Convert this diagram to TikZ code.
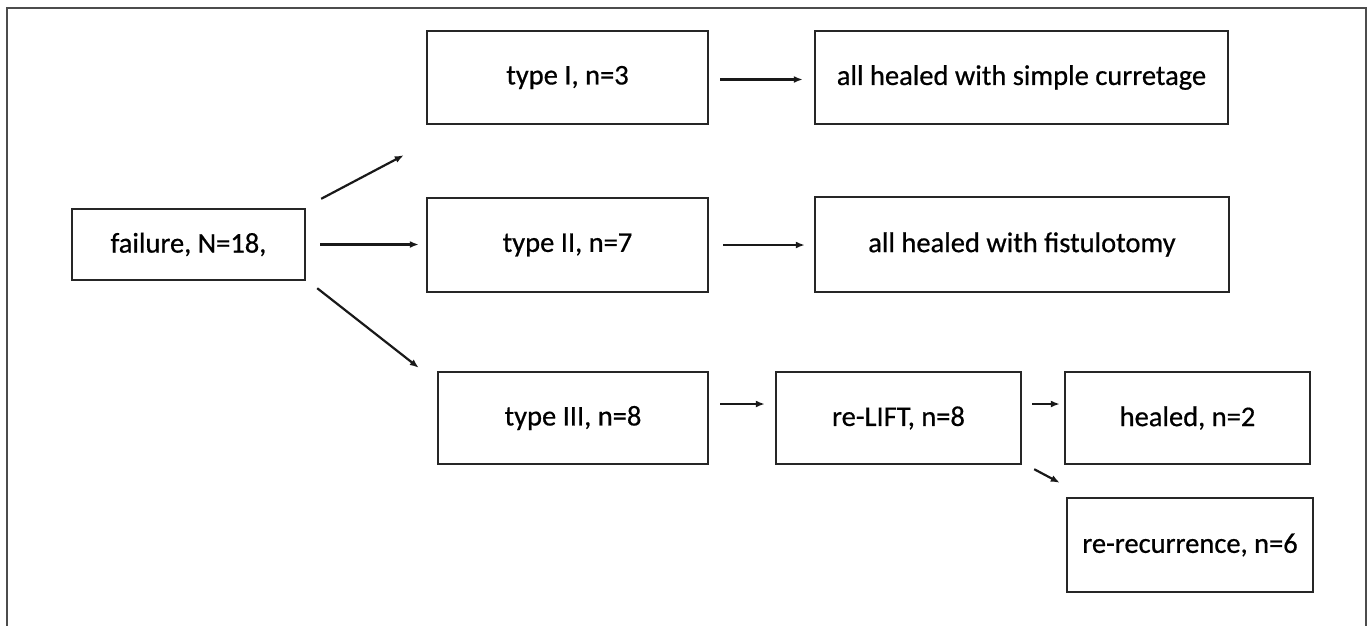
\documentclass[tikz,border=0pt]{standalone}
\usepackage{fontspec}
\setmainfont{Carlito}[FakeBold=0.6]
\usetikzlibrary{arrows.meta,calc}
\tikzset{
  box/.style={draw=black!85, line width=2.4pt, inner sep=0pt, align=center,
    font=\fontsize{28.5}{34}\selectfont},
  arr/.style={draw=black!90, line width=2.2pt, -{Latex[length=9pt,width=7pt]}},
  frame/.style={draw=black!70, line width=1.6pt}
}
\begin{document}
\begin{tikzpicture}[x=1pt,y=-1pt]
\useasboundingbox[fill=white] (0,0) rectangle (1370,625);
\draw[frame] (7,640) -- (7,8) -- (1366,8) -- (1366,640);

\node[box, minimum width=233pt, minimum height=71pt] (f) at (188.5,244.5) {failure, N=18,};
\node[box, minimum width=281pt, minimum height=93pt] (t1) at (567.5,77.5) {type I, n=3};
\node[box, minimum width=413pt, minimum height=93pt] (cur) at (1021.5,77.5) {all healed with simple curretage};
\node[box, minimum width=281pt, minimum height=94pt] (t2) at (567.5,245) {type II, n=7};
\node[box, minimum width=414pt, minimum height=95pt] (fis) at (1022,244.5) {all healed with fistulotomy};
\node[box, minimum width=270pt, minimum height=92pt] (t3) at (573,418) {type III, n=8};
\node[box, minimum width=245pt, minimum height=92pt] (rl) at (898.5,418) {re-LIFT, n=8};
\node[box, minimum width=245pt, minimum height=92pt] (h) at (1187.5,418) {healed, n=2};
\node[box, minimum width=246pt, minimum height=94pt] (rr) at (1190,545) {re-recurrence, n=6};

\draw[arr] ([shift={(15,-9)}]f.north east) -- ([shift={(-22,30)}]t1.south west);
\draw[arr, shorten <=14pt, shorten >=7pt] (f.east) -- (f.east -| t2.west);
\draw[arr] ([shift={(11,7)}]f.south east) -- ([shift={(-18,-3)}]t3.north west);
\draw[arr, shorten <=11pt, shorten >=11pt] ([yshift=-2pt]t1.east) -- ([yshift=-2pt]t1.east -| cur.west);
\draw[arr, shorten <=14pt, shorten >=9pt] (t2.east) -- (t2.east -| fis.west);
\draw[arr, shorten <=11pt, shorten >=10pt] ([yshift=14pt]t3.east) -- ([yshift=14pt]t3.east -| rl.west);
\draw[arr, shorten <=10pt, shorten >=4pt] ([yshift=14pt]rl.east) -- ([yshift=14pt]rl.east -| h.west);
\draw[arr] ([shift={(12,4)}]rl.south east) -- ([shift={(-6,-14)}]rr.north west);
\end{tikzpicture}
\end{document}
